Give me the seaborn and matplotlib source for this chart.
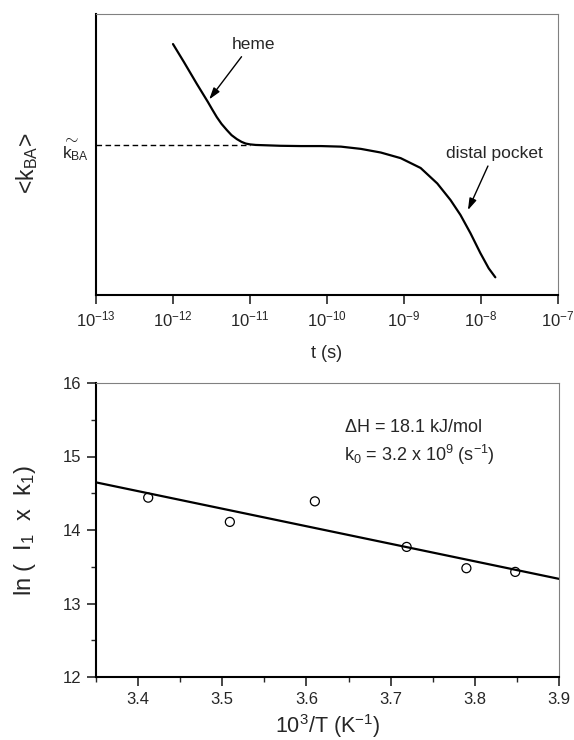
import numpy as np
import matplotlib
matplotlib.use("Agg")
import matplotlib.pyplot as plt
from matplotlib.ticker import NullLocator, MultipleLocator, FixedLocator
import seaborn as sns

# ---------------- data ----------------
# top panel: <k_BA> vs time (log10 seconds), arbitrary units
log_t = [-12.0, -11.858, -11.690, -11.547, -11.49, -11.431, -11.37, -11.301,
         -11.24, -11.172, -11.11, -11.056, -11.0, -10.926, -10.603, -10.34,
         -10.078, -9.819, -9.560, -9.301, -9.043, -8.784, -8.568, -8.396,
         -8.267, -8.137, -8.008, -7.900, -7.814]
k_ba = [0.893, 0.829, 0.751, 0.687, 0.660, 0.633, 0.609, 0.587,
        0.569, 0.555, 0.545, 0.539, 0.536, 0.534, 0.531, 0.530,
        0.530, 0.528, 0.520, 0.507, 0.487, 0.452, 0.397, 0.338,
        0.285, 0.220, 0.149, 0.095, 0.063]
kba_level = 0.534
dash_log_t = [-13.0, -11.0]
top_xtick_exp = [-13, -12, -11, -10, -9, -8, -7]

# bottom panel: Arrhenius plot
inv_T = [3.412, 3.509, 3.610, 3.719, 3.790, 3.848]
ln_Ik = [14.44, 14.11, 14.39, 13.77, 13.48, 13.43]
bottom_xticks = [3.4, 3.5, 3.6, 3.7, 3.8, 3.9]
bottom_yticks = [12, 13, 14, 15, 16]

# ---------------- style ----------------
sns.set_style("ticks")
plt.rcParams["font.family"] = ["Liberation Sans", "DejaVu Sans"]
plt.rcParams["mathtext.fontset"] = "custom"
plt.rcParams["mathtext.rm"] = "Liberation Sans"
plt.rcParams["mathtext.it"] = "Liberation Sans"
plt.rcParams["mathtext.bf"] = "Liberation Sans:bold"
plt.rcParams["axes.unicode_minus"] = False

fig = plt.figure(figsize=(5.74, 7.40), dpi=100)
ax1 = fig.add_axes([96 / 574, 1 - 295 / 740, 462 / 574, 281 / 740])
ax2 = fig.add_axes([96 / 574, 1 - 677 / 740, 463 / 574, 294 / 740])

def style_spines(ax):
    for s in ["left", "bottom"]:
        ax.spines[s].set_linewidth(1.5)
        ax.spines[s].set_color("black")
    for s in ["top", "right"]:
        ax.spines[s].set_linewidth(0.8)
        ax.spines[s].set_color("#808080")
        ax.spines[s].set_visible(True)

# ---------------- top panel ----------------
t_vals = 10.0 ** np.array(log_t)
sns.lineplot(x=t_vals, y=k_ba, ax=ax1, color="black", linewidth=1.6, sort=False)
ax1.plot(10.0 ** np.array(dash_log_t), [kba_level, kba_level], color="black",
         linewidth=1.0, dashes=(4, 2.5))
ax1.set_xscale("log")
ax1.set_xlim(1e-13, 1e-7)
ax1.set_ylim(0, 1)
ax1.xaxis.set_major_locator(FixedLocator([10.0 ** e for e in top_xtick_exp]))
ax1.xaxis.set_minor_locator(NullLocator())
ax1.set_xticklabels([r"$\mathregular{10^{%d}}$" % e for e in top_xtick_exp])
ax1.set_yticks([])
ax1.tick_params(axis="x", direction="out", length=6.5, width=1.2, labelsize=12, pad=4)
style_spines(ax1)
# k-tilde_BA label at the plateau level (tilde drawn on its own line above k)
ax1.text(-0.016, kba_level - 0.004, r"$\sim$" + "\n" + r"k$_{BA}$",
         transform=ax1.get_yaxis_transform(),
         fontsize=12.5, ha="right", va="center", multialignment="left", linespacing=0.95)
ax1.set_xlabel("t (s)", fontsize=13, labelpad=11)
ax1.set_ylabel(r"<k$_{BA}$>", fontsize=16.5)
ax1.yaxis.set_label_coords(-0.122, 0.47)

ax1.text(10.0 ** -10.95, 0.893, "heme", fontsize=12.5, ha="center", va="center")
ax1.annotate("", xy=(10.0 ** -11.53, 0.696), xytext=(10.0 ** -11.11, 0.848),
             arrowprops=dict(arrowstyle="-|>,head_length=0.7,head_width=0.22",
                             color="black", lw=1.0, shrinkA=0, shrinkB=0))
ax1.text(10.0 ** -7.83, 0.505, "distal pocket", fontsize=12.5, ha="center", va="center")
ax1.annotate("", xy=(10.0 ** -8.17, 0.302), xytext=(10.0 ** -7.91, 0.459),
             arrowprops=dict(arrowstyle="-|>,head_length=0.7,head_width=0.22",
                             color="black", lw=1.0, shrinkA=0, shrinkB=0))

# ---------------- bottom panel ----------------
ax2.set_xlim(3.35, 3.9)
ax2.set_ylim(12, 16)
sns.regplot(x=np.array(inv_T), y=np.array(ln_Ik), ax=ax2, scatter=False, ci=None,
            truncate=False, line_kws=dict(color="black", linewidth=1.6))
sns.scatterplot(x=inv_T, y=ln_Ik, ax=ax2, marker="o", s=42,
                facecolor="none", edgecolor="black", linewidth=0.9, zorder=3)
ax2.set_xlim(3.35, 3.9)
ax2.set_ylim(12, 16)
ax2.set_xticks(bottom_xticks)
ax2.set_xticklabels([f"{v:.1f}" for v in bottom_xticks])
ax2.set_yticks(bottom_yticks)
ax2.xaxis.set_minor_locator(MultipleLocator(0.05))
ax2.yaxis.set_minor_locator(MultipleLocator(0.5))
ax2.tick_params(which="major", direction="out", length=6.5, width=1.2, labelsize=12, pad=4)
ax2.tick_params(which="minor", direction="out", length=3.5, width=1.0)
ax2.tick_params(axis="both", which="both", top=False, right=False)
style_spines(ax2)
ax2.set_xlabel(r"10$^3$/T (K$^{-1}$)", fontsize=15.5, labelpad=4)
ax2.set_ylabel(r"ln (  I$_1$  x  k$_1$)", fontsize=17)
ax2.yaxis.set_label_coords(-0.125, 0.5)

ax2.text(3.645, 15.40, r"$\Delta$H = 18.1 kJ/mol", fontsize=13, ha="left", va="center")
ax2.text(3.645, 15.02, r"k$_0$ = 3.2 x 10$^9$ (s$^{-1}$)", fontsize=13, ha="left", va="center")

fig.savefig("out.png", dpi=100)
